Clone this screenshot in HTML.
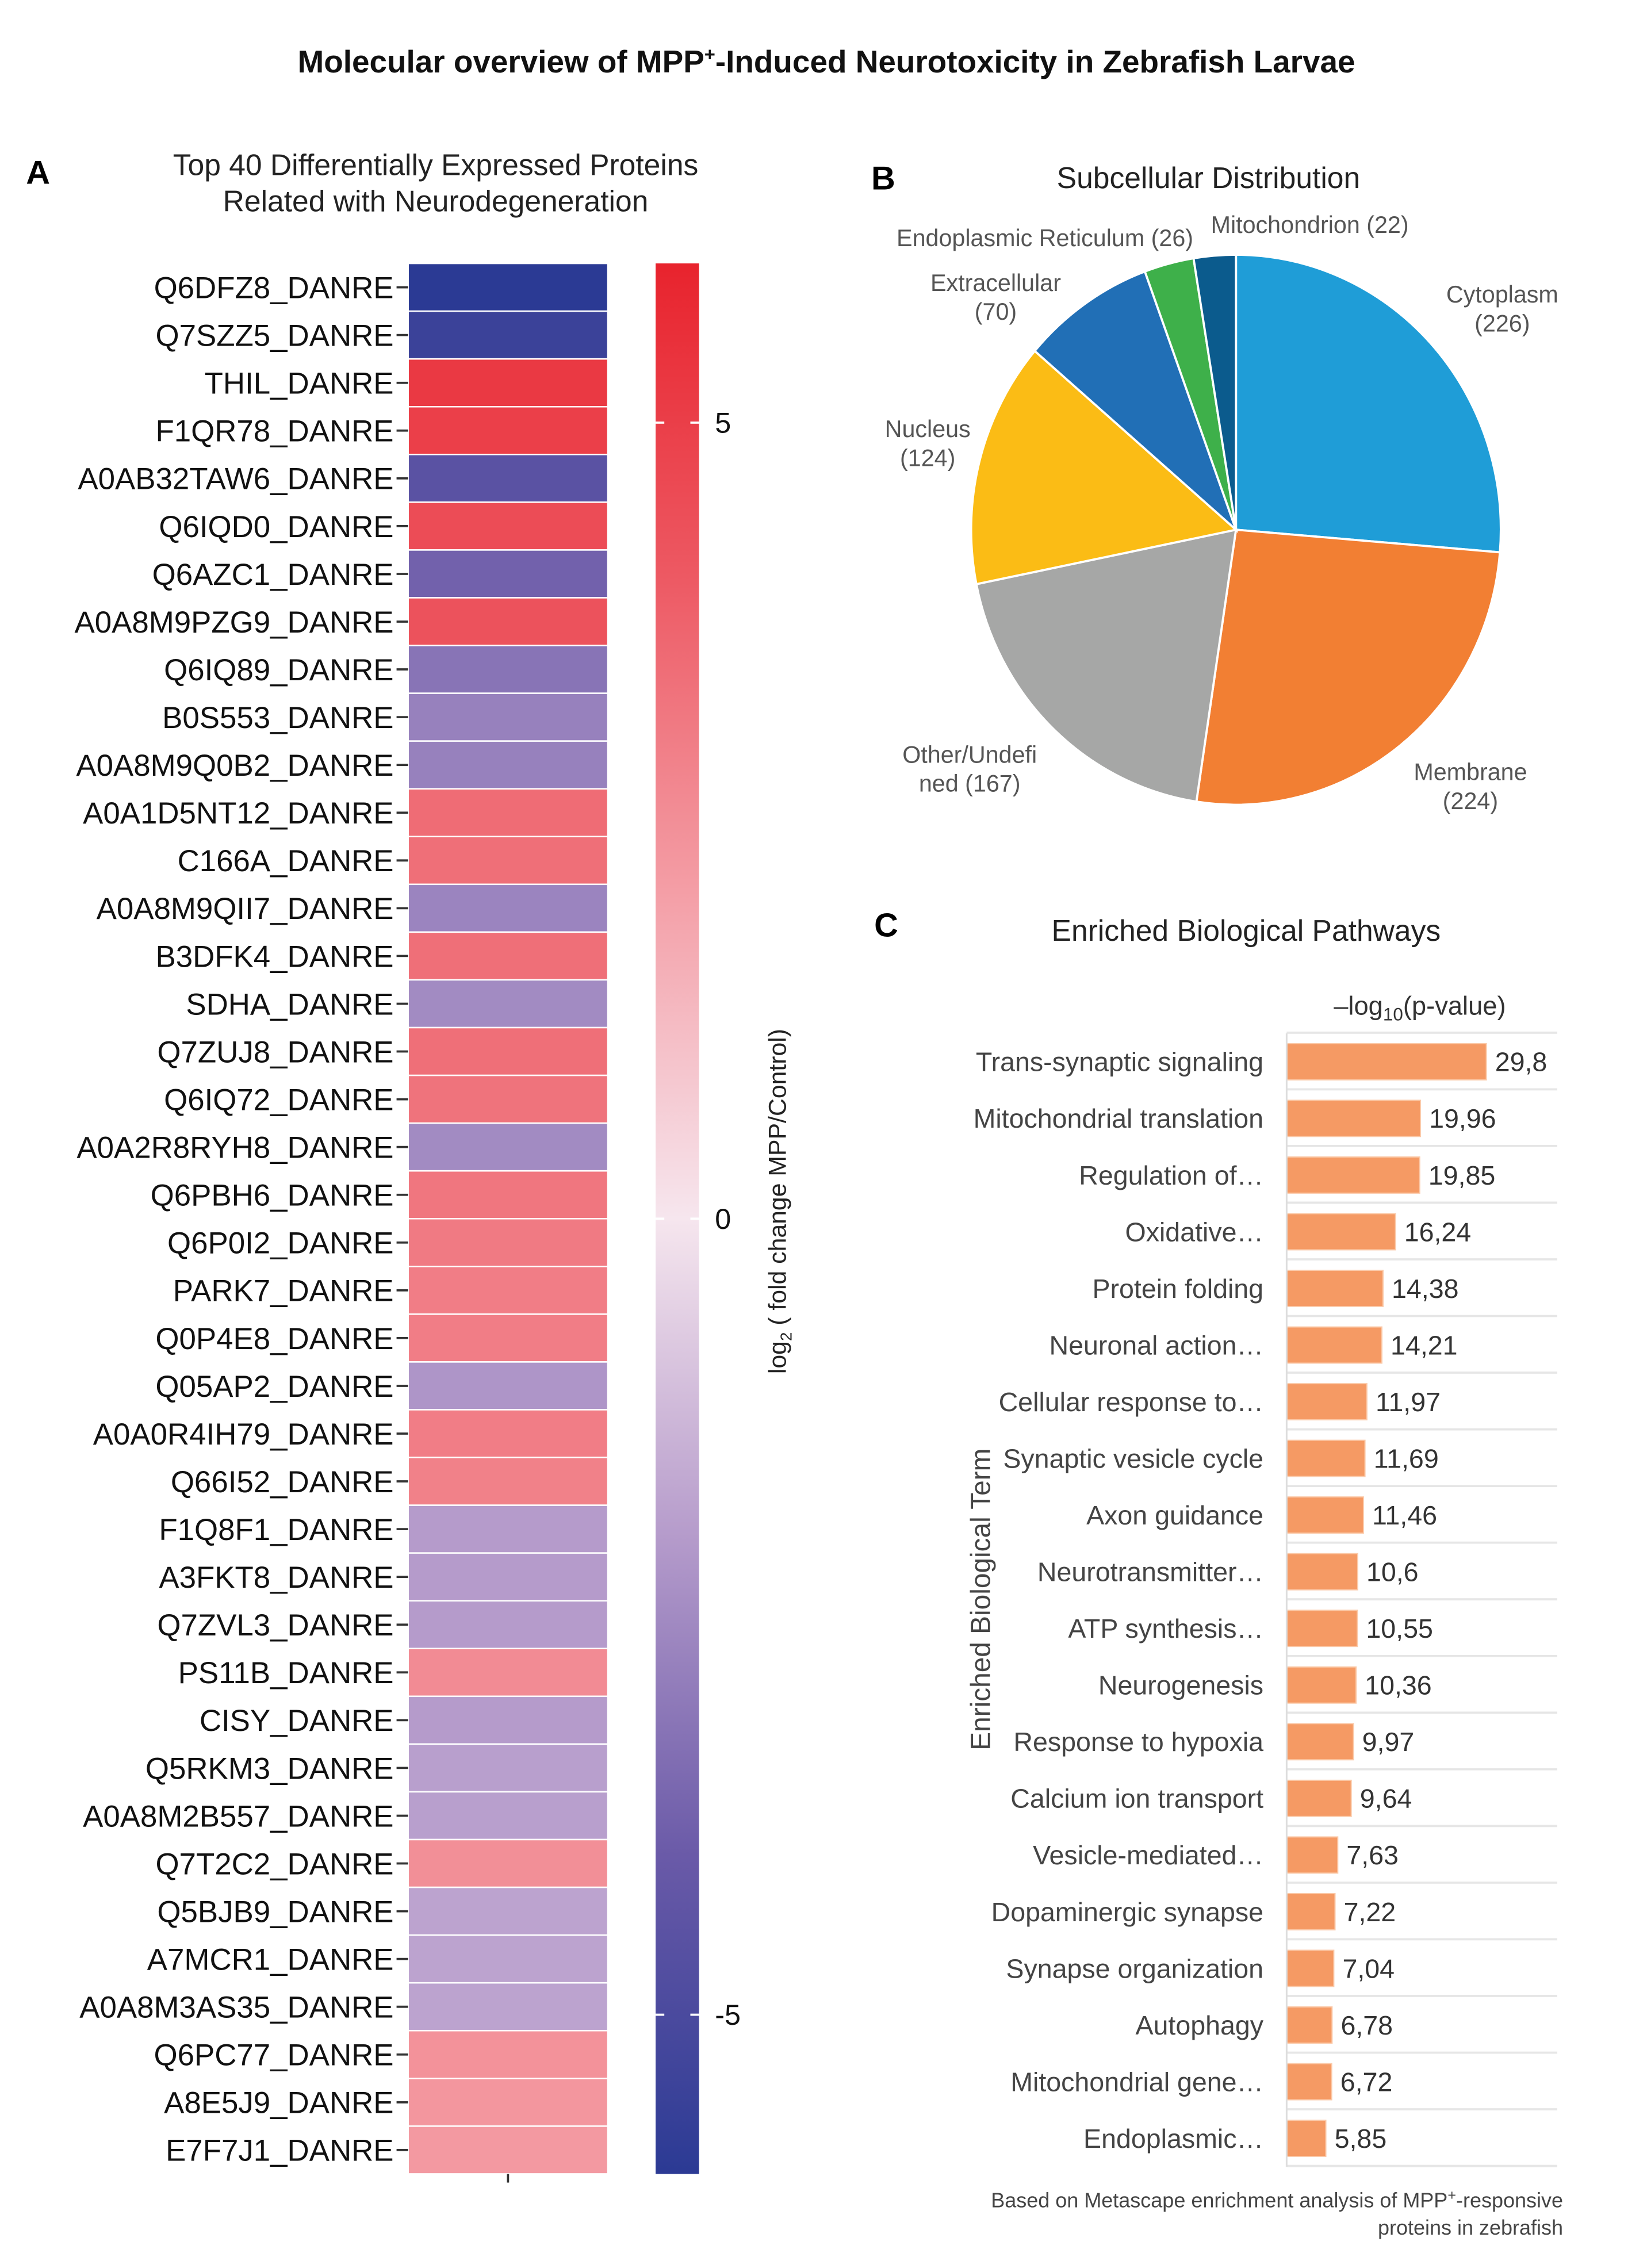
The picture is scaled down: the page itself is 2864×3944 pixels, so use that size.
<!DOCTYPE html>
<html><head><meta charset="utf-8"><style>
html,body{margin:0;padding:0;background:#fff}
svg{display:block}
text{font-family:"Liberation Sans",Arial,sans-serif}
</style></head><body>
<svg id="fig" xmlns="http://www.w3.org/2000/svg" width="2864" height="3944" viewBox="0 0 1138 1567" preserveAspectRatio="none">
<rect width="1138" height="1567" fill="#fff"/>
<text x="571" y="50" text-anchor="middle" font-size="21.8" font-weight="bold" fill="#111">Molecular overview of MPP<tspan font-size="13" dy="-8">+</tspan><tspan dy="8">-Induced Neurotoxicity in Zebrafish Larvae</tspan></text>

<text x="18" y="127" font-size="23" font-weight="bold">A</text>
<text x="301" y="121" text-anchor="middle" font-size="20.5" fill="#222">Top 40 Differentially Expressed Proteins</text>
<text x="301" y="146" text-anchor="middle" font-size="20.5" fill="#222">Related with Neurodegeneration</text>
<g id="heat"></g>
<defs><linearGradient id="cb" x1="0" y1="1" x2="0" y2="0">
<stop offset="0" stop-color="#2b3a94"/><stop offset="0.1667" stop-color="#6a5aa8"/><stop offset="0.3333" stop-color="#b59bcb"/><stop offset="0.5" stop-color="#f6e6ee"/><stop offset="0.6667" stop-color="#f4a0a8"/><stop offset="0.8333" stop-color="#ed5a64"/><stop offset="1" stop-color="#e8232d"/></linearGradient></defs>
<rect x="453" y="182" width="30" height="1320" fill="url(#cb)"/>
<g id="cbticks"></g>
<text transform="translate(543,830) rotate(-90)" text-anchor="middle" font-size="17" fill="#222">log<tspan font-size="11" dy="4">2</tspan><tspan dy="-4"> ( fold change MPP/Control)</tspan></text>
<line x1="351" y1="1502" x2="351" y2="1508" stroke="#333" stroke-width="1.5"/>

<text x="602" y="131" font-size="23" font-weight="bold">B</text>
<text x="835" y="130" text-anchor="middle" font-size="20.5" fill="#222">Subcellular Distribution</text>
<g id="pie"></g>
<g font-size="16.4" fill="#555">
<text x="1038" y="209" text-anchor="middle">Cytoplasm</text>
<text x="1038" y="229" text-anchor="middle">(226)</text>
<text x="1016" y="539" text-anchor="middle">Membrane</text>
<text x="1016" y="559" text-anchor="middle">(224)</text>
<text x="670" y="527" text-anchor="middle">Other/Undefi</text>
<text x="670" y="547" text-anchor="middle">ned (167)</text>
<text x="641" y="302" text-anchor="middle">Nucleus</text>
<text x="641" y="322" text-anchor="middle">(124)</text>
<text x="688" y="201" text-anchor="middle">Extracellular</text>
<text x="688" y="221" text-anchor="middle">(70)</text>
<text x="722" y="170" text-anchor="middle">Endoplasmic Reticulum (26)</text>
<text x="905" y="161" text-anchor="middle">Mitochondrion (22)</text>
</g>

<text x="604" y="647" font-size="23" font-weight="bold">C</text>
<text x="861" y="650" text-anchor="middle" font-size="20.5" fill="#222">Enriched Biological Pathways</text>
<text x="981" y="701" text-anchor="middle" font-size="18" fill="#333">–log<tspan font-size="12.5" dy="4">10</tspan><tspan dy="-4">(p-value)</tspan></text>
<text transform="translate(684,1105) rotate(-90)" text-anchor="middle" font-size="19" fill="#444">Enriched Biological Term</text>
<g id="bars"></g>
<text x="1080" y="1525" text-anchor="end" font-size="14.3" fill="#444">Based on Metascape enrichment analysis of MPP<tspan font-size="10" dy="-5">+</tspan><tspan dy="5">-responsive</tspan></text>
<text x="1080" y="1544" text-anchor="end" font-size="14.3" fill="#444">proteins in zebrafish</text>
</svg>
<script>
const NS="http://www.w3.org/2000/svg";
const proteins=["Q6DFZ8_DANRE","Q7SZZ5_DANRE","THIL_DANRE","F1QR78_DANRE","A0AB32TAW6_DANRE","Q6IQD0_DANRE","Q6AZC1_DANRE","A0A8M9PZG9_DANRE","Q6IQ89_DANRE","B0S553_DANRE","A0A8M9Q0B2_DANRE","A0A1D5NT12_DANRE","C166A_DANRE","A0A8M9QII7_DANRE","B3DFK4_DANRE","SDHA_DANRE","Q7ZUJ8_DANRE","Q6IQ72_DANRE","A0A2R8RYH8_DANRE","Q6PBH6_DANRE","Q6P0I2_DANRE","PARK7_DANRE","Q0P4E8_DANRE","Q05AP2_DANRE","A0A0R4IH79_DANRE","Q66I52_DANRE","F1Q8F1_DANRE","A3FKT8_DANRE","Q7ZVL3_DANRE","PS11B_DANRE","CISY_DANRE","Q5RKM3_DANRE","A0A8M2B557_DANRE","Q7T2C2_DANRE","Q5BJB9_DANRE","A7MCR1_DANRE","A0A8M3AS35_DANRE","Q6PC77_DANRE","A8E5J9_DANRE","E7F7J1_DANRE"];
const log2fc=[-6,-5.5,5.2,5,-4.5,4.5,-3.8,4.3,-3.2,-2.8,-2.8,3.5,3.4,-2.7,3.4,-2.5,3.4,3.3,-2.5,3.2,3.1,3.0,3.0,-2.2,3.0,2.9,-2.0,-2.0,-2.0,2.6,-2.0,-1.9,-1.9,2.5,-1.8,-1.8,-1.8,2.4,2.3,2.2];
const cbTicks=[5,0,-5];
const cbMin=-6,cbMax=6;
const terms=["Trans-synaptic signaling","Mitochondrial translation","Regulation of…","Oxidative…","Protein folding","Neuronal action…","Cellular response to…","Synaptic vesicle cycle","Axon guidance","Neurotransmitter…","ATP synthesis…","Neurogenesis","Response to hypoxia","Calcium ion transport","Vesicle-mediated…","Dopaminergic synapse","Synapse organization","Autophagy","Mitochondrial gene…","Endoplasmic…"];
const pvals=[29.8,19.96,19.85,16.24,14.38,14.21,11.97,11.69,11.46,10.6,10.55,10.36,9.97,9.64,7.63,7.22,7.04,6.78,6.72,5.85];
const pieNames=["Cytoplasm","Membrane","Other/Undefined","Nucleus","Extracellular","Endoplasmic Reticulum","Mitochondrion"];
const pieCounts=[226,224,167,124,70,26,22];
const pieColors=["#1f9dd7","#f27f33","#a6a7a6","#fbbc15","#216fb6","#3eb04a","#0b5b8d"];

function mk(tag,attrs,parent){const e=document.createElementNS(NS,tag);for(const k in attrs)e.setAttribute(k,attrs[k]);parent.appendChild(e);return e;}
function hex(c){return [parseInt(c.slice(1,3),16),parseInt(c.slice(3,5),16),parseInt(c.slice(5,7),16)];}
const stops=[[-6,"#2b3a94"],[-4,"#6a5aa8"],[-2,"#b59bcb"],[0,"#f6e6ee"],[2,"#f4a0a8"],[4,"#ed5a64"],[6,"#e8232d"]];
function colorOf(v){v=Math.max(-6,Math.min(6,v));for(let i=0;i<stops.length-1;i++){const[a,ca]=stops[i],[b,cb]=stops[i+1];if(v<=b){const t=(v-a)/(b-a),A=hex(ca),B=hex(cb);return "rgb("+A.map((x,j)=>Math.round(x+(B[j]-x)*t)).join(",")+")";}}return stops[6][1];}

const heat=document.getElementById("heat");
const hTop=182,hBot=1502,rowH=(hBot-hTop)/proteins.length;
const yRow=i=>hTop+i*rowH;
proteins.forEach((p,i)=>{
  const r=mk("rect",{x:282,y:yRow(i),width:138,height:rowH,fill:colorOf(log2fc[i]),stroke:"#fff","stroke-width":1},heat);
  
  
  const l=mk("text",{x:272,y:yRow(i)+rowH/2+7.5,"text-anchor":"end","font-size":21,fill:"#111"},heat);
  l.textContent=p;
  
  
  const t=mk("line",{x1:274,x2:282,y1:yRow(i)+rowH/2,y2:yRow(i)+rowH/2,stroke:"#333","stroke-width":1.5},heat);
  
  
});
const cbg=document.getElementById("cbticks");
const cbY=v=>hBot-(v-cbMin)/(cbMax-cbMin)*(hBot-hTop);
cbTicks.forEach(v=>{
  const ln=mk("line",{x1:453,x2:459,y1:cbY(v),y2:cbY(v),stroke:"#fff","stroke-width":1.5},cbg);
  
  
  const ln2=mk("line",{x1:477,x2:483,y1:cbY(v),y2:cbY(v),stroke:"#fff","stroke-width":1.5},cbg);
  
  
  const tx=mk("text",{x:494,y:cbY(v)+7,"font-size":20,fill:"#111"},cbg);
  tx.textContent=v<0?"-"+Math.abs(v):String(v);
  
  
});

const pie=document.getElementById("pie");
const cx=854,cy=366,rx=183,ry=190;
const tot=pieCounts.reduce((a,b)=>a+b,0);
let ang=0;
pieCounts.forEach((c,i)=>{
  const a0=ang,a1=ang+c/tot*2*Math.PI;ang=a1;
  const x0=cx+rx*Math.sin(a0),y0=cy-ry*Math.cos(a0),x1=cx+rx*Math.sin(a1),y1=cy-ry*Math.cos(a1);
  const large=(a1-a0)>Math.PI?1:0;
  const p=mk("path",{d:`M${cx},${cy}L${x0},${y0}A${rx},${ry} 0 ${large} 1 ${x1},${y1}Z`,fill:pieColors[i],stroke:"#fff","stroke-width":1.5},pie);
  
  
});

const bars=document.getElementById("bars");
const x0b=889,pxPer=138/29.8;
const bTop=714,step=39.15;
const bx=v=>x0b+v*pxPer;
const by=i=>bTop+i*step;
for(let i=0;i<=terms.length;i++){
  const g=mk("line",{x1:x0b,x2:1076,y1:by(i)-0.5,y2:by(i)-0.5,stroke:"#e6e6e6","stroke-width":1.5},bars);
  
  
}
terms.forEach((t,i)=>{
  const cyb=by(i)+step/2;
  const r=mk("rect",{x:x0b,y:cyb-12.5,width:bx(pvals[i])-x0b,height:25,fill:"#f59a64",stroke:"#fbc9a8","stroke-width":0.8},bars);
  
  
  const l=mk("text",{x:873,y:cyb+6.5,"text-anchor":"end","font-size":18.5,fill:"#444"},bars);
  l.textContent=t;
  
  
  const v=mk("text",{x:bx(pvals[i])+6,y:cyb+6.5,"font-size":18.5,fill:"#333"},bars);
  v.textContent=String(pvals[i]).replace('.',',');
  
  
});
const ax=mk("line",{x1:x0b,x2:x0b,y1:by(0),y2:by(terms.length),stroke:"#ddd","stroke-width":1.2},bars);


</script>
</body></html>
